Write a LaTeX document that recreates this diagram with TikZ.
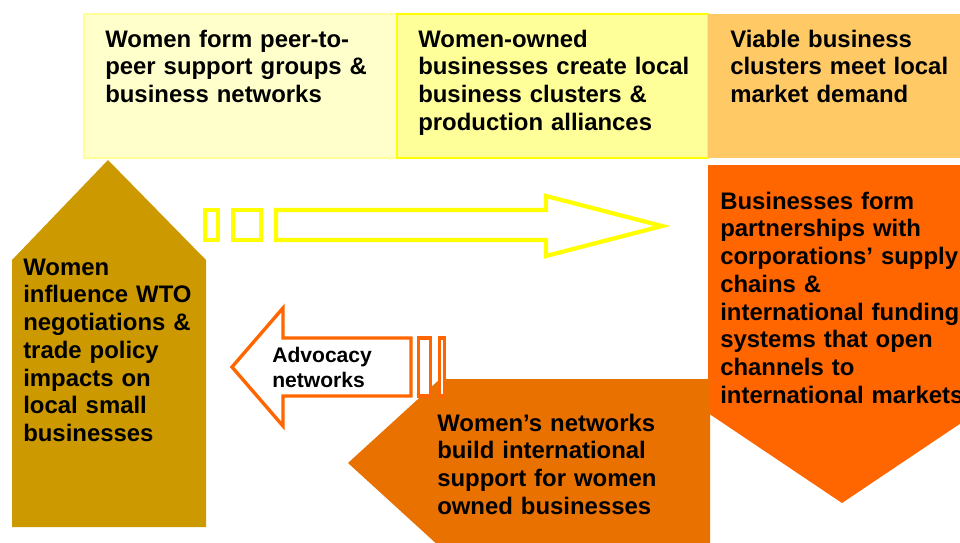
\documentclass[tikz,border=0pt]{standalone}
\usepackage{fontspec}
\setmainfont{Liberation Sans}
\definecolor{paleyel}{HTML}{FFFFCC}
\definecolor{softyel}{HTML}{FFFF99}
\definecolor{brightyel}{HTML}{FFFF00}
\definecolor{sandorange}{HTML}{FFC966}
\definecolor{mustard}{HTML}{CC9900}
\definecolor{hotorange}{HTML}{FF6600}
\definecolor{deeporange}{HTML}{E97100}

\begin{document}
\begin{tikzpicture}[x=0.025cm,y=-0.025cm,
	lbl/.style={anchor=base west,inner sep=0pt,text width=7cm,align=left,
		font=\bfseries\fontsize{17}{19.75}\selectfont},
	smalllbl/.style={lbl,text width=3cm,font=\bfseries\fontsize{15}{17.8}\selectfont},
	yelline/.style={draw=brightyel,line width=3pt,line join=miter},
	orgline/.style={draw=hotorange,fill=white,line width=2.4pt,line join=miter}]
		\clip (0,0) rectangle (960,542);
		
		% top row
		\filldraw[fill=paleyel,draw=softyel,line width=1pt] (84,14) rectangle (397,158);
		\filldraw[fill=softyel,draw=brightyel,line width=1.2pt] (397,14) rectangle (708,158);
		\fill[sandorange] (708,14) rectangle (962,158);
		\node[lbl] (peerTxt) at (105,47) {Women form peer-to-\\peer support groups \&\\business networks};
		\node[lbl] (clusterTxt) at (418,47) {Women-owned\\businesses create local\\business clusters \&\\production alliances};
		\node[lbl] (demandTxt) at (730,47) {Viable business\\clusters meet local\\market demand};
		
		% left block arrow
		\fill[mustard] (12,527) -- (12,260) -- (108,160) -- (206,260) -- (206,527) -- cycle;
		\node[lbl] (wtoTxt) at (23,275) {Women\\influence WTO\\negotiations \&\\trade policy\\impacts on\\local small\\businesses};
		
		% striped yellow arrow
		\draw[yelline] (205,210) rectangle (218,240);
		\draw[yelline] (233,210) rectangle (261,240);
		\draw[yelline] (276,210) -- (546,210) -- (546,196) -- (662,226) -- (546,256) -- (546,240) -- (276,240) -- cycle;
		
		% right block arrow
		\fill[hotorange] (708,165) -- (976,165) -- (976,413) -- (842,503) -- (708,413) -- cycle;
		\node[lbl] (supplyTxt) at (720,209) {Businesses form\\partnerships with\\corporations’ supply\\chains \&\\international funding\\systems that open\\channels to\\international markets};
		
		% bottom block arrow
		\fill[deeporange] (348,463) -- (440,379) -- (710,379) -- (710,547) -- (440,547) -- cycle;
		\node[lbl] (intlTxt) at (437,431) {Women’s networks\\build international\\support for women\\owned businesses};
		
		% striped advocacy arrow
		\draw[orgline] (418.5,338) rectangle (430.5,396);
		\draw[orgline] (439.5,338) rectangle (444.5,396);
		\draw[orgline] (232,367) -- (283,308) -- (283,338) -- (411,338) -- (411,396) -- (283,396) -- (283,426) -- cycle;
		\node[smalllbl] (advocTxt) at (272,362) {Advocacy\\networks};
	\end{tikzpicture}
\end{document}
